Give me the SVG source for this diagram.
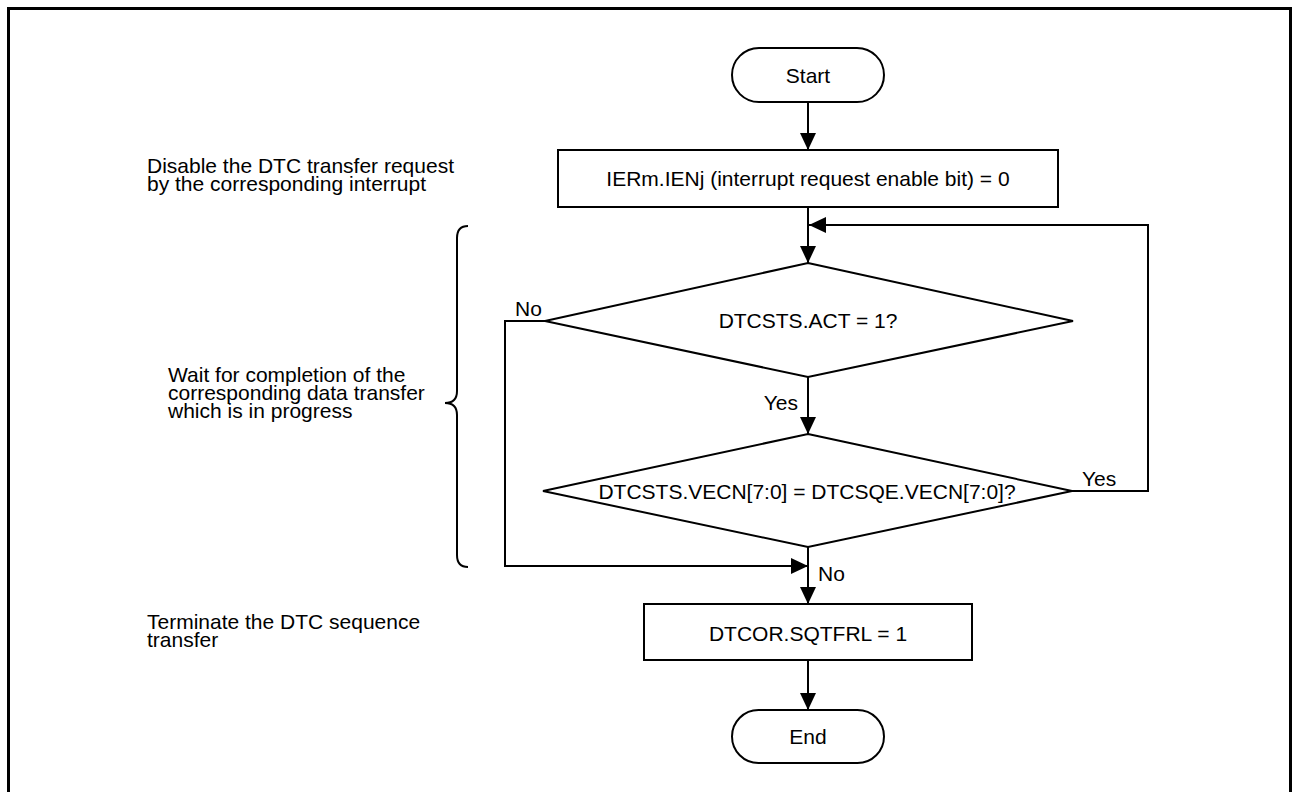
<svg xmlns="http://www.w3.org/2000/svg" width="1292" height="792" viewBox="0 0 1292 792">
<style>
text{font-family:"Liberation Sans",Arial,sans-serif;font-size:21px;fill:#000}
.c{text-anchor:middle}
.s{fill:#fff;stroke:#000;stroke-width:2}
.l{fill:none;stroke:#000;stroke-width:2}
</style>
<defs>
<marker id="ah" markerUnits="userSpaceOnUse" markerWidth="18" markerHeight="16" refX="17" refY="8" orient="auto">
<path d="M0,0 L17,8 L0,16 Z" fill="#000"/>
</marker>
</defs>
<rect x="0" y="0" width="1292" height="792" fill="#fff"/>
<rect x="8.5" y="8.5" width="1282" height="800" fill="none" stroke="#000" stroke-width="3"/>

<g id="notes">
<text x="147" y="173">Disable the DTC transfer request</text>
<text x="147" y="191">by the corresponding interrupt</text>
<text x="168" y="382">Wait for completion of the</text>
<text x="168" y="400">corresponding data transfer</text>
<text x="168" y="418">which is in progress</text>
<text x="147" y="629">Terminate the DTC sequence</text>
<text x="147" y="647">transfer</text>
<path class="l" stroke-width="1.3" d="M468,226 Q457,226 457,238 L457,391 Q457,403 445,403 Q457,403 457,415 L457,555 Q457,567 468,567"/>
</g>

<g id="connectors">
<line class="l" x1="808" y1="102" x2="808" y2="150" marker-end="url(#ah)"/>
<line class="l" x1="808" y1="207" x2="808" y2="263" marker-end="url(#ah)"/>
<line class="l" x1="808" y1="377" x2="808" y2="434" marker-end="url(#ah)"/>
<line class="l" x1="808" y1="547" x2="808" y2="604" marker-end="url(#ah)"/>
<line class="l" x1="808" y1="660" x2="808" y2="710" marker-end="url(#ah)"/>
<polyline class="l" points="1072,491 1148,491 1148,225 809,225" marker-end="url(#ah)"/>
<polyline class="l" points="545,321 505,321 505,566 808,566" marker-end="url(#ah)"/>
<text x="515" y="316">No</text>
<text x="798" y="410" text-anchor="end">Yes</text>
<text x="1082" y="486">Yes</text>
<text x="818" y="581">No</text>
</g>

<g id="start">
<rect class="s" x="732" y="48" width="152" height="54" rx="27" ry="27"/>
<text class="c" x="808" y="83">Start</text>
</g>
<g id="disable">
<rect class="s" x="558" y="150" width="500" height="57"/>
<text class="c" x="808" y="186">IERm.IENj (interrupt request enable bit) = 0</text>
</g>
<g id="act">
<polygon class="s" points="808,263 1073,321 808,377 545,321"/>
<text class="c" x="808" y="328">DTCSTS.ACT = 1?</text>
</g>
<g id="vecn">
<polygon class="s" points="808,434 1072,491 808,547 543,491"/>
<text class="c" x="807" y="499">DTCSTS.VECN[7:0] = DTCSQE.VECN[7:0]?</text>
</g>
<g id="sqtfrl">
<rect class="s" x="644" y="604" width="328" height="56"/>
<text class="c" x="808" y="641">DTCOR.SQTFRL = 1</text>
</g>
<g id="end">
<rect class="s" x="732" y="710" width="152" height="53" rx="26.5" ry="26.5"/>
<text class="c" x="808" y="744">End</text>
</g>
</svg>
